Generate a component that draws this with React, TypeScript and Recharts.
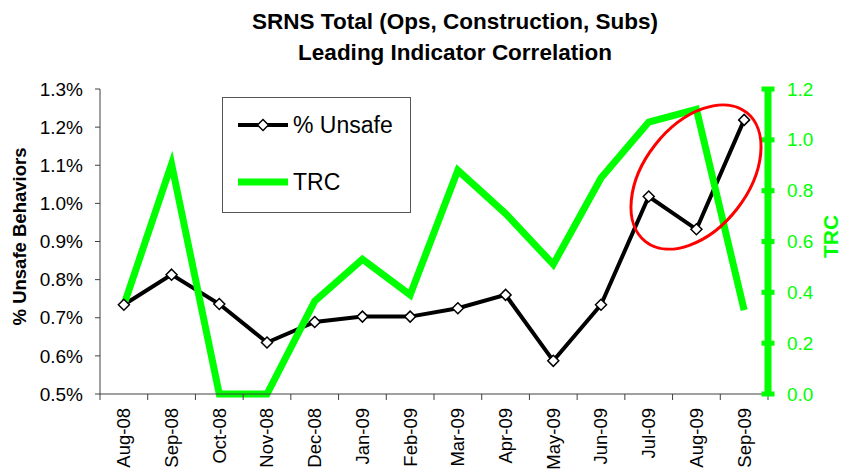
import React from "react";
import { ComposedChart, Line, XAxis, YAxis } from "recharts";

const months = [
  "Aug-08", "Sep-08", "Oct-08", "Nov-08", "Dec-08", "Jan-09", "Feb-09",
  "Mar-09", "Apr-09", "May-09", "Jun-09", "Jul-09", "Aug-09", "Sep-09",
];
// % Unsafe behaviours (left axis, in percent)
const unsafePct = [0.734, 0.813, 0.736, 0.635, 0.689, 0.703, 0.703, 0.725, 0.76, 0.587, 0.734, 1.018, 0.932, 1.219];
// TRC (right axis)
const trcValues = [0.35, 0.905, 0, 0, 0.365, 0.53, 0.39, 0.88, 0.71, 0.51, 0.85, 1.07, 1.12, 0.33];
const leftTicks = [0.5, 0.6, 0.7, 0.8, 0.9, 1.0, 1.1, 1.2, 1.3];
const rightTicks = [0, 0.2, 0.4, 0.6, 0.8, 1.0, 1.2];

const FONT = "'Liberation Sans', Arial, sans-serif";
const GREEN = "#00ff00";
const AXIS = "#404040";

const data = months.map((m, i) => ({ month: m, unsafe: unsafePct[i], trc: trcValues[i] }));

function Diamond(props: any) {
  const { cx, cy } = props;
  if (cx == null || cy == null) return null;
  const r = 5.5;
  return (
    <polygon
      points={`${cx},${cy - r} ${cx + r},${cy} ${cx},${cy + r} ${cx - r},${cy}`}
      fill="#fff"
      stroke="#000"
      strokeWidth={1.5}
    />
  );
}

function MonthTick(props: any) {
  const { x, y, payload, index } = props;
  const half = payload?.offset || 668 / 28;
  const axisY = y - 14;
  return (
    <g>
      <line x1={x - half} x2={x - half} y1={axisY} y2={axisY + 6} stroke={AXIS} />
      {index === months.length - 1 && (
        <line x1={x + half} x2={x + half} y1={axisY} y2={axisY + 6} stroke={AXIS} />
      )}
      <text
        x={x}
        y={y}
        transform={`rotate(-90, ${x}, ${y})`}
        textAnchor="end"
        dy="0.35em"
        fontSize={18.5}
        fontFamily={FONT}
        fill="#000"
      >
        {payload.value}
      </text>
    </g>
  );
}

// green ticks on the TRC axis: a small bar crossing the axis line plus the label
function TrcTick(props: any) {
  const { x, y, payload } = props;
  const axisX = x - 19;
  return (
    <g>
      <rect x={axisX - 6.5} y={y - 2.5} width={13} height={5} fill={GREEN} />
      <text x={x} y={y} dy="0.35em" textAnchor="start" fontSize={19} fontFamily={FONT} fill={GREEN}>
        {Number(payload.value).toFixed(1)}
      </text>
    </g>
  );
}

export default function App() {
  return (
    <div style={{ position: "absolute", left: 0, top: 0, width: 844, height: 473, background: "#fff" }}>
      <ComposedChart width={844} height={473} data={data} margin={{ top: 89, right: 0, bottom: 0, left: 0 }}>
        <XAxis
          dataKey="month"
          scale="band"
          height={79}
          interval={0}
          tickLine={false}
          tickSize={6}
          tickMargin={8}
          stroke={AXIS}
          tick={<MonthTick />}
        />
        <YAxis
          yAxisId="left"
          width={100}
          domain={[0.5, 1.3]}
          ticks={leftTicks}
          tickFormatter={(v: number) => v.toFixed(1) + "%"}
          stroke={AXIS}
          tickSize={5}
          tickMargin={12}
          tick={{ fill: "#000", fontSize: 19, fontFamily: FONT }}
          label={{
            content: ({ viewBox }: any) => {
              const cx = 20;
              const cy = viewBox.y + viewBox.height / 2 - 5;
              return (
                <text
                  x={cx}
                  y={cy}
                  transform={`rotate(-90, ${cx}, ${cy})`}
                  textAnchor="middle"
                  dy="0.35em"
                  fontSize={18.5}
                  fontWeight="bold"
                  fontFamily={FONT}
                  fill="#000"
                >
                  % Unsafe Behaviors
                </text>
              );
            },
          }}
        />
        <YAxis
          yAxisId="right"
          orientation="right"
          width={76}
          domain={[0, 1.2]}
          ticks={rightTicks}
          axisLine={{ stroke: GREEN, strokeWidth: 7 }}
          tickLine={false}
          tickSize={7}
          tickMargin={12}
          tick={<TrcTick />}
          label={{
            content: ({ viewBox }: any) => {
              const cx = 831;
              const cy = viewBox.y + viewBox.height / 2 - 5;
              return (
                <text
                  x={cx}
                  y={cy}
                  transform={`rotate(-90, ${cx}, ${cy})`}
                  textAnchor="middle"
                  dy="0.35em"
                  fontSize={21}
                  fontWeight="bold"
                  fontFamily={FONT}
                  fill={GREEN}
                >
                  TRC
                </text>
              );
            },
          }}
        />
        <Line
          yAxisId="left"
          dataKey="unsafe"
          type="linear"
          stroke="#000"
          strokeWidth={4}
          dot={<Diamond />}
          activeDot={false}
          isAnimationActive={false}
        />
        <Line
          yAxisId="right"
          dataKey="trc"
          type="linear"
          stroke={GREEN}
          strokeWidth={7}
          dot={false}
          activeDot={false}
          isAnimationActive={false}
        />
      </ComposedChart>

      <svg
        width={844}
        height={473}
        style={{ position: "absolute", left: 0, top: 0, pointerEvents: "none" }}
        fontFamily={FONT}
      >
        <text x={455} y={29} textAnchor="middle" fontSize={22.5} fontWeight="bold" fill="#000">
          SRNS Total (Ops, Construction, Subs)
        </text>
        <text x={455} y={60} textAnchor="middle" fontSize={22.5} fontWeight="bold" fill="#000">
          Leading Indicator Correlation
        </text>

        <rect x={222.5} y={97.5} width={188} height={115} fill="#fff" stroke="#555" strokeWidth={1} />
        <line x1={238} x2={288} y1={125} y2={125} stroke="#000" strokeWidth={4} />
        <Diamond cx={263} cy={125} />
        <text x={293} y={125} dy="0.35em" fontSize={23} fill="#000">% Unsafe</text>
        <line x1={238} x2={288} y1={182} y2={182} stroke={GREEN} strokeWidth={7} />
        <text x={293} y={182} dy="0.35em" fontSize={23} fill="#000">TRC</text>

        <ellipse
          cx={696}
          cy={177}
          rx={82}
          ry={52}
          transform="rotate(-52, 696, 177)"
          fill="none"
          stroke="#ff0000"
          strokeWidth={3}
        />
      </svg>
    </div>
  );
}
